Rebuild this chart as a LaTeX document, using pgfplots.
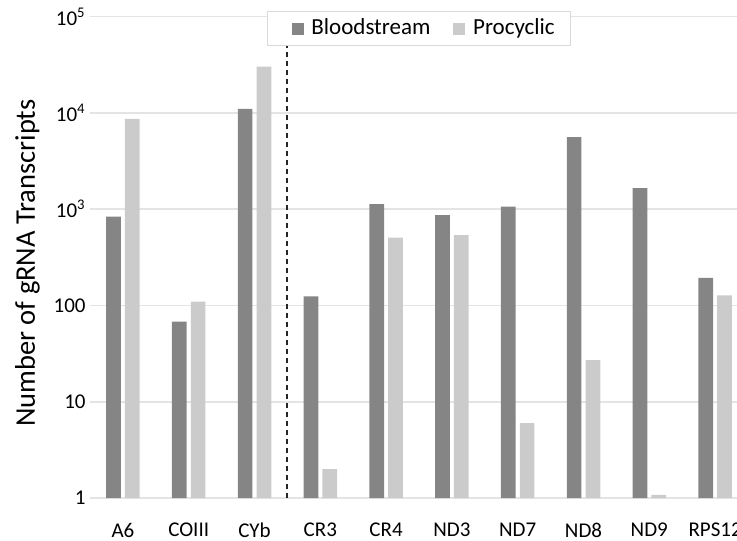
\documentclass[border=0pt]{standalone}
\usepackage{fontspec}
\setmainfont{Carlito}
\usepackage{pgfplots}
\pgfplotsset{compat=1.18}
\definecolor{bs}{HTML}{858585}
\definecolor{pc}{HTML}{CBCBCB}
\definecolor{gridc}{HTML}{E4E4E4}
\definecolor{legc}{HTML}{D9D9D9}
\begin{document}
\begin{tikzpicture}
\begin{axis}[
  at={(45pt,-249pt)}, anchor=south west,
  scale only axis, width=329pt, height=240.65pt,
  ymode=log, ymin=1, ymax=100000,
  xmin=-0.5, xmax=9.5,
  ybar=2.05pt, bar width=7.35pt,
  xtick={0,1,2,3,4,5,6,7,8,9},
  xticklabels={A6,COIII,CYb,CR3,CR4,ND3,ND7,ND8,ND9,RPS12},
  ytick={1,10,100,1000,10000,100000},
  yticklabels={1,10,100,10\textsuperscript{3},10\textsuperscript{4},10\textsuperscript{5}},
  yminorticks=false, xminorticks=false,
  ymajorgrids, major grid style={draw=gridc, line width=0.8pt},
  axis line style={draw=none},
  major tick length=0pt, minor tick length=0pt,
  tick label style={font=\fontsize{10.5}{12}\selectfont, inner sep=0pt},
  yticklabel style={xshift=-2pt},
  xticklabel style={yshift=-12.3pt},
  ylabel={Number of gRNA Transcripts},
  ylabel style={at={(axis description cs:-0.0836,0.488)}, anchor=base, font=\fontsize{14.25}{16}\selectfont},
]
\addplot[fill=bs, draw=none]
  coordinates {(0,840) (1,68) (2,11000) (3,124) (4,1127) (5,867) (6,1064) (7,5620) (8,1652) (9,194)};
\addplot[fill=pc, draw=none]
  coordinates {(0,8670) (1,110) (2,30300) (3,2) (4,507) (5,537) (6,6) (7,27) (8,1.08) (9,127)};
\draw[black!85, line width=0.95pt, dash pattern=on 2.6pt off 1.9pt] (axis cs:2.5,1) -- (axis cs:2.5,49600);
\end{axis}
% legend
\filldraw[fill=white, draw=legc, line width=0.6pt] (133.65pt,-5.85pt) rectangle (285.15pt,-22.85pt);
\fill[bs] (145.85pt,-11.4pt) rectangle (151.8pt,-17.5pt);
\node[anchor=base west, inner sep=0pt, font=\fontsize{11.5}{13}\selectfont] at (155.5pt,-17.5pt) {Bloodstream};
\fill[pc] (226.5pt,-11.4pt) rectangle (232.6pt,-17.5pt);
\node[anchor=base west, inner sep=0pt, font=\fontsize{11.5}{13}\selectfont] at (236.35pt,-17.5pt) {Procyclic};
\pgfresetboundingbox
\useasboundingbox (0,0) rectangle (368.5pt,-270pt);
\end{tikzpicture}
\end{document}
